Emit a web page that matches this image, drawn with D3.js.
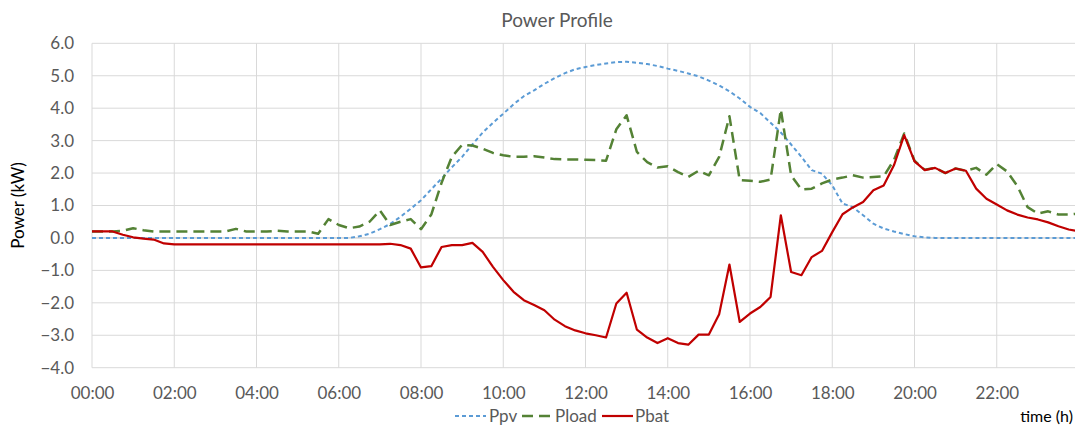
<!DOCTYPE html>
<html>
<head>
<meta charset="utf-8">
<script src="https://cdn.jsdelivr.net/npm/d3@7"></script>
<style>
  body { margin: 0; background: #fff; }
  text { font-family: Lato, "Open Sans", sans-serif; }
</style>
</head>
<body>
<svg id="svgPowerProfile" width="1075" height="425"></svg>
<script>
// quarter-hour samples, 00:00 .. 24:00
var stepHours = 0.25;
var tickHours = [0, 2, 4, 6, 8, 10, 12, 14, 16, 18, 20, 22];
var yTicks = [-4, -3, -2, -1, 0, 1, 2, 3, 4, 5, 6];

var ppv = [0, 0, 0, 0, 0, 0, 0, 0, 0, 0, 0, 0, 0, 0, 0, 0,
  0, 0, 0, 0, 0, 0, 0, 0, 0, 0, 0.05, 0.13, 0.27, 0.43, 0.65, 0.9,
  1.16, 1.5, 1.83, 2.18, 2.5, 2.88, 3.25, 3.55, 3.83, 4.12, 4.37, 4.55, 4.75, 4.93, 5.08, 5.2,
  5.27, 5.33, 5.38, 5.42, 5.43, 5.4, 5.36, 5.3, 5.22, 5.15, 5.07, 4.98, 4.85, 4.7, 4.52, 4.3,
  4.04, 3.85, 3.55, 3.25, 2.88, 2.5, 2.09, 1.98, 1.62, 1.06, 0.95, 0.7, 0.44, 0.29, 0.2, 0.12,
  0.05, 0.02, 0, 0, 0, 0, 0, 0, 0, 0, 0, 0, 0, 0, 0, 0, 0];

var pload = [0.2, 0.2, 0.2, 0.22, 0.3, 0.24, 0.2, 0.2, 0.2, 0.2, 0.2, 0.2, 0.2, 0.2, 0.28, 0.2,
  0.2, 0.2, 0.22, 0.2, 0.2, 0.2, 0.13, 0.58, 0.4, 0.3, 0.35, 0.5, 0.85, 0.4, 0.5, 0.58,
  0.27, 0.72, 1.7, 2.5, 2.87, 2.85, 2.75, 2.62, 2.55, 2.5, 2.5, 2.52, 2.48, 2.43, 2.42, 2.42,
  2.41, 2.4, 2.38, 3.35, 3.78, 2.65, 2.34, 2.17, 2.21, 2.03, 1.88, 2.07, 1.93, 2.5, 3.75, 1.78,
  1.76, 1.73, 1.8, 3.96, 1.93, 1.49, 1.52, 1.68, 1.8, 1.86, 1.93, 1.86, 1.88, 1.9, 2.4, 3.22,
  2.38, 2.1, 2.16, 2.0, 2.14, 2.07, 2.16, 1.95, 2.28, 2.05, 1.6, 0.95, 0.75, 0.82, 0.72, 0.72, 0.75];

var pbat = [0.2, 0.2, 0.2, 0.1, 0.02, -0.02, -0.05, -0.17, -0.2, -0.2, -0.2, -0.2, -0.2, -0.2, -0.2, -0.2,
  -0.2, -0.2, -0.2, -0.2, -0.2, -0.2, -0.2, -0.2, -0.2, -0.2, -0.2, -0.2, -0.2, -0.18, -0.22, -0.33,
  -0.91, -0.87, -0.28, -0.22, -0.22, -0.15, -0.43, -0.89, -1.3, -1.66, -1.92, -2.07, -2.23, -2.52, -2.72, -2.85,
  -2.94, -3.0, -3.07, -2.02, -1.69, -2.83, -3.07, -3.24, -3.09, -3.24, -3.29, -2.98, -2.98, -2.35, -0.82, -2.59,
  -2.33, -2.13, -1.82, 0.7, -1.05, -1.15, -0.59, -0.4, 0.18, 0.73, 0.94, 1.11, 1.47, 1.62, 2.24, 3.17,
  2.36, 2.09, 2.16, 2.0, 2.14, 2.07, 1.52, 1.21, 1.03, 0.85, 0.72, 0.63, 0.57, 0.48, 0.36, 0.26, 0.2];

var seriesNames = ["Ppv", "Pload", "Pbat"];
var seriesColors = ["#5b9bd5", "#548235", "#c00000"];
var seriesDashes = ["4,3", "11,6", null];
var seriesWidths = [2, 2.5, 2.2];

function makeChart() {
  /*   Draws the power profile line chart into the svg. */

  var svg = d3.select("#svgPowerProfile"),
    left = 92, top = 43.3, bottom = 367.7, right = 1079;

  var x = d3.scaleLinear().domain([0, 24]).range([left, right]);
  var y = d3.scaleLinear().domain([-4, 6]).range([bottom, top]);

  // grid
  svg.append("g").selectAll("line")
    .data(yTicks)
    .enter().append("line")
    .attr("x1", left).attr("x2", right)
    .attr("y1", function(d) { return y(d); })
    .attr("y2", function(d) { return y(d); })
    .attr("stroke", function(d) { return d == 0 ? "#bfbfbf" : "#d9d9d9"; })
    .attr("stroke-width", 1);

  svg.append("g").selectAll("line")
    .data(tickHours.concat([24]))
    .enter().append("line")
    .attr("x1", function(d) { return x(d); })
    .attr("x2", function(d) { return x(d); })
    .attr("y1", top).attr("y2", bottom)
    .attr("stroke", "#d9d9d9")
    .attr("stroke-width", 1);

  // axes (labels only, Excel style)
  var yAxis = svg.append("g")
    .attr("transform", "translate(" + (left - 15) + ",0)")
    .call(d3.axisLeft(y).tickValues(yTicks).tickSize(0)
      .tickFormat(d3.format(".1f")));
  var xAxis = svg.append("g")
    .attr("transform", "translate(0," + (bottom + 16) + ")")
    .call(d3.axisBottom(x).tickValues(tickHours).tickSize(0)
      .tickFormat(function(d) { return (d < 10 ? "0" : "") + d + ":00"; }));

  [xAxis, yAxis].forEach(function(a) {
    a.select(".domain").remove();
    a.selectAll("text")
      .attr("fill", "#595959")
      .style("font-size", "17px")
      .style("font-family", "Lato, sans-serif");
  });

  // lines
  var line = d3.line()
    .x(function(d, i) { return x(i * stepHours); })
    .y(function(d) { return y(d); });

  [ppv, pload, pbat].forEach(function(values, k) {
    svg.append("path")
      .datum(values)
      .attr("d", line)
      .attr("fill", "none")
      .attr("stroke", seriesColors[k])
      .attr("stroke-width", seriesWidths[k])
      .attr("stroke-dasharray", seriesDashes[k])
      .attr("stroke-linejoin", "round");
  });

  // titles
  svg.append("text")
    .attr("x", 557).attr("y", 27)
    .attr("text-anchor", "middle")
    .attr("fill", "#595959")
    .style("font-size", "19px")
    .text("Power Profile");

  svg.append("text")
    .attr("transform", "translate(24," + ((top + bottom) / 2) + ") rotate(-90)")
    .attr("text-anchor", "middle")
    .attr("fill", "#000")
    .style("font-size", "17px")
    .text("Power (kW)");

  svg.append("text")
    .attr("x", 1073).attr("y", 422)
    .attr("text-anchor", "end")
    .attr("fill", "#000")
    .style("font-size", "16px")
    .text("time (h)");

  // legend
  var legendX = [455, 522, 602];
  var legendTextX = [489, 555, 635];
  var legend = svg.append("g");
  seriesNames.forEach(function(name, k) {
    legend.append("line")
      .attr("x1", legendX[k]).attr("x2", legendX[k] + 31)
      .attr("y1", 416).attr("y2", 416)
      .attr("stroke", seriesColors[k])
      .attr("stroke-width", seriesWidths[k])
      .attr("stroke-dasharray", seriesDashes[k]);
    legend.append("text")
      .attr("x", legendTextX[k]).attr("y", 422)
      .attr("fill", "#595959")
      .style("font-size", "17px")
      .text(name);
  });
}

makeChart();
</script>
</body>
</html>
